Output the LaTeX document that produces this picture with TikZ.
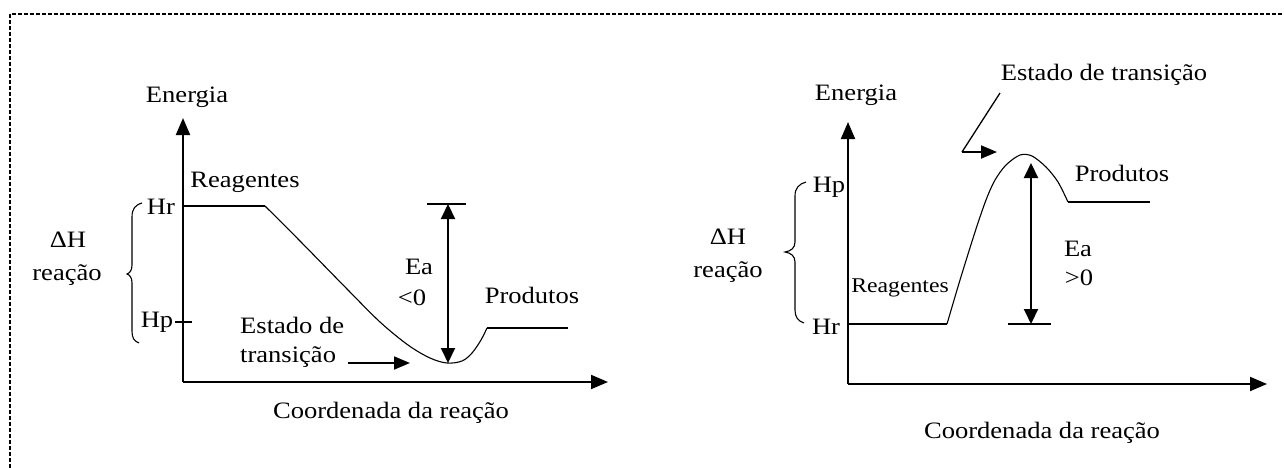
\documentclass[tikz,border=0pt]{standalone}
\usepackage{fontspec}
\setmainfont{Liberation Serif}[FakeStretch=1.13]
\usetikzlibrary{arrows.meta}
\begin{document}
\begin{tikzpicture}[x=1pt,y=-1pt,
  lbl/.style={inner sep=0pt, font=\fontsize{23.5}{27}\selectfont},
  lbls/.style={inner sep=0pt, font=\fontsize{21}{25}\selectfont},
  axis/.style={line width=2pt, -{Triangle[length=17pt,width=14pt]}},
  lvl/.style={line width=2pt},
  curve/.style={line width=1.1pt, line join=round},
  ea/.style={line width=2pt, {Triangle[length=15pt,width=14pt]}-{Triangle[length=15pt,width=14pt]}},
  ptr/.style={line width=1.8pt, -{Triangle[length=16pt,width=13pt]}},
  thin/.style={line width=1.3pt},
  brace/.style={line width=1.1pt},
  frame/.style={line width=1.5pt, dash pattern=on 4pt off 2pt}]
\useasboundingbox (0,0) rectangle (1284,468);
% frame
\coordinate (F1) at (10,468);
\coordinate (F2) at (10,14);
\coordinate (F3) at (1284,14);
\draw[frame] (F1) -- (F2) -- (F3);

% ================= LEFT DIAGRAM =================
\coordinate (LO) at (183,382);
\coordinate (LYt) at (183,118);
\coordinate (LXt) at (608,382);
\draw[axis] (LO) -- (LYt);
\draw[axis] (LO) -- (LXt);
\node[lbl] (Len) at (187,97) {Energia};
\node[lbl] (Lre) at (245,182) {Reagentes};
\node[lbl] (Lhr) at (161,207) {Hr};
\node[lbl] (Lhp) at (157,322) {Hp};
\node[lbl] (Ldh) at (68,240) {ΔH};
\node[lbl] (Lrc) at (67,275) {reação};
\node[lbl] (Lea) at (419,267) {Ea};
\node[lbl] (Llt) at (412,298) {<0};
\node[lbl] (Lpr) at (532,295) {Produtos};
\node[lbl,anchor=west] (Les) at (240,325) {Estado de};
\node[lbl,anchor=west] (Ltr) at (240,357) {transição};
\node[lbl] (Lco) at (391,413) {Coordenada da reação};
% Hp tick
\coordinate (LtkA) at (175,322);
\coordinate (LtkB) at (192,322);
\draw[thin] (LtkA) -- (LtkB);
% reactant level
\coordinate (LHr0) at (183,206);
\coordinate (LHr1) at (265,206);
\draw[lvl] (LHr0) -- (LHr1);
% profile
\draw[curve] plot[smooth, tension=0.55] coordinates {(265,206) (300,241) (348,290) (380,322) (408,345) (430,358) (447,363) (462,361) (472,353) (481,340) (487,328)};
\coordinate (LP0) at (487,328);
\coordinate (LP1) at (568,328);
\draw[lvl] (LP0) -- (LP1);
% Ea
\coordinate (LbL) at (427,204);
\coordinate (LbR) at (466,204);
\draw[lvl] (LbL) -- (LbR);
\coordinate (LEt) at (448,204);
\coordinate (LEb) at (448,363);
\draw[ea] (LEt) -- (LEb);
% transition state arrow
\coordinate (LAs) at (348,363);
\coordinate (LAe) at (410,363);
\draw[ptr] (LAs) -- (LAe);
% brace
\coordinate (LB1) at (142,203);
\coordinate (LBm) at (127,274);
\coordinate (LB2) at (139,343);
\draw[brace] (LB1) .. controls (135,205) and (132,209) .. (132,217) -- (132,265)
  .. controls (132,270) and (130,273) .. (LBm)
  .. controls (130,275) and (132,278) .. (132,283) -- (132,331)
  .. controls (132,338) and (134,341) .. (LB2);

% ================= RIGHT DIAGRAM =================
\coordinate (RO) at (848,384);
\coordinate (RYt) at (848,122);
\coordinate (RXt) at (1267,384);
\draw[axis] (RO) -- (RYt);
\draw[axis] (RO) -- (RXt);
\node[lbl] (Ren) at (856,95) {Energia};
\node[lbl] (Rhp) at (829,187) {Hp};
\node[lbl] (Rhr) at (826,327) {Hr};
\node[lbl] (Rdh) at (728,237) {ΔH};
\node[lbl] (Rrc) at (728,272) {reação};
\node[lbls] (Rre) at (900,288) {Reagentes};
\node[lbl] (Res) at (1104,75) {Estado de transição};
\node[lbl] (Rpr) at (1122,173) {Produtos};
\node[lbl] (Rea) at (1078,249) {Ea};
\node[lbl] (Rgt) at (1079,278) {>0};
\node[lbl] (Rco) at (1042,433) {Coordenada da reação};
% reactant level
\coordinate (RHr0) at (848,324);
\coordinate (RHr1) at (947,324);
\draw[lvl] (RHr0) -- (RHr1);
% profile
\draw[curve] plot[smooth, tension=0.5] coordinates {(947,324) (960,280) (975,232) (986,200) (995,180) (1006,165) (1020,155) (1032,156) (1046,167) (1058,182) (1068,202)};
\coordinate (RP0) at (1068,202);
\coordinate (RP1) at (1150,202);
\draw[lvl] (RP0) -- (RP1);
% Ea
\coordinate (RbL) at (1008,324);
\coordinate (RbR) at (1051,324);
\draw[lvl] (RbL) -- (RbR);
\coordinate (REt) at (1031,163);
\coordinate (REb) at (1031,324);
\draw[ea] (REt) -- (REb);
% transition state pointer
\coordinate (RPa) at (1000,93);
\coordinate (RPb) at (962,152);
\coordinate (RPc) at (997,152);
\draw[thin] (RPa) -- (RPb);
\draw[ptr] (RPb) -- (RPc);
% brace
\coordinate (RB1) at (806,182);
\coordinate (RBm) at (785,252);
\coordinate (RB2) at (804,323);
\draw[brace] (RB1) .. controls (799,184) and (795,188) .. (795,196) -- (795,242)
  .. controls (795,248) and (791,251) .. (RBm)
  .. controls (791,253) and (795,256) .. (795,262) -- (795,310)
  .. controls (795,317) and (798,321) .. (RB2);
\end{tikzpicture}
\end{document}
